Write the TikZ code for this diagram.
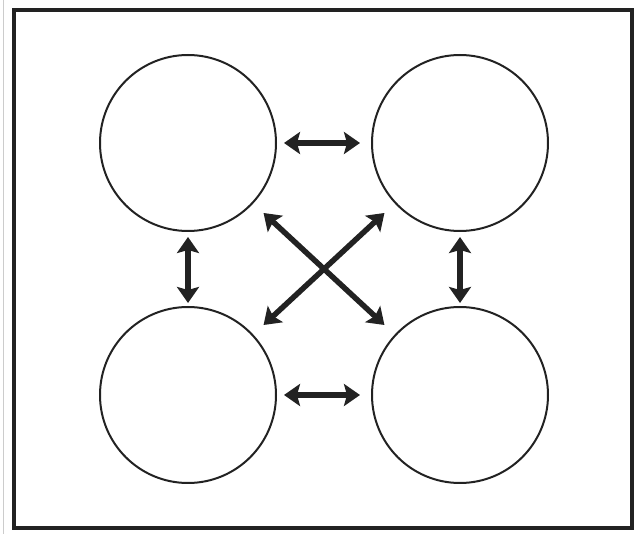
\documentclass[tikz,border=0pt]{standalone}
\usetikzlibrary{arrows.meta}
\definecolor{ink}{HTML}{222222}
\begin{document}
\begin{tikzpicture}[x=1pt,y=-1pt,
  bubble/.style={circle,draw=ink,line width=2pt,minimum size=176pt,inner sep=0pt},
  link/.style={draw=ink,line width=5.5pt,{Stealth[length=16pt,width=22pt,inset=3pt]}-{Stealth[length=16pt,width=22pt,inset=3pt]}},
  frame/.style={draw=ink,line width=4.5pt}]
\useasboundingbox (0,0) rectangle (643,534);
\draw[gray!40,line width=1pt] (3,0) -- (3,534);
\draw[frame] (14,10) rectangle (632,528);
\node[bubble] (tl) at (188,143) {};
\node[bubble] (tr) at (460,143) {};
\node[bubble] (bl) at (188,395) {};
\node[bubble] (br) at (460,395) {};
\draw[link,shorten <=7pt,shorten >=11pt] (tl) -- (tr);
\draw[link,shorten <=7pt,shorten >=11pt] (bl) -- (br);
\draw[link,shorten <=5pt,shorten >=3pt] (tl) -- (bl);
\draw[link,shorten <=5pt,shorten >=3pt] (tr) -- (br);
\draw[link,shorten <=14pt,shorten >=14pt] (tl) -- (br);
\draw[link,shorten <=14pt,shorten >=14pt] (tr) -- (bl);
\end{tikzpicture}
\end{document}
